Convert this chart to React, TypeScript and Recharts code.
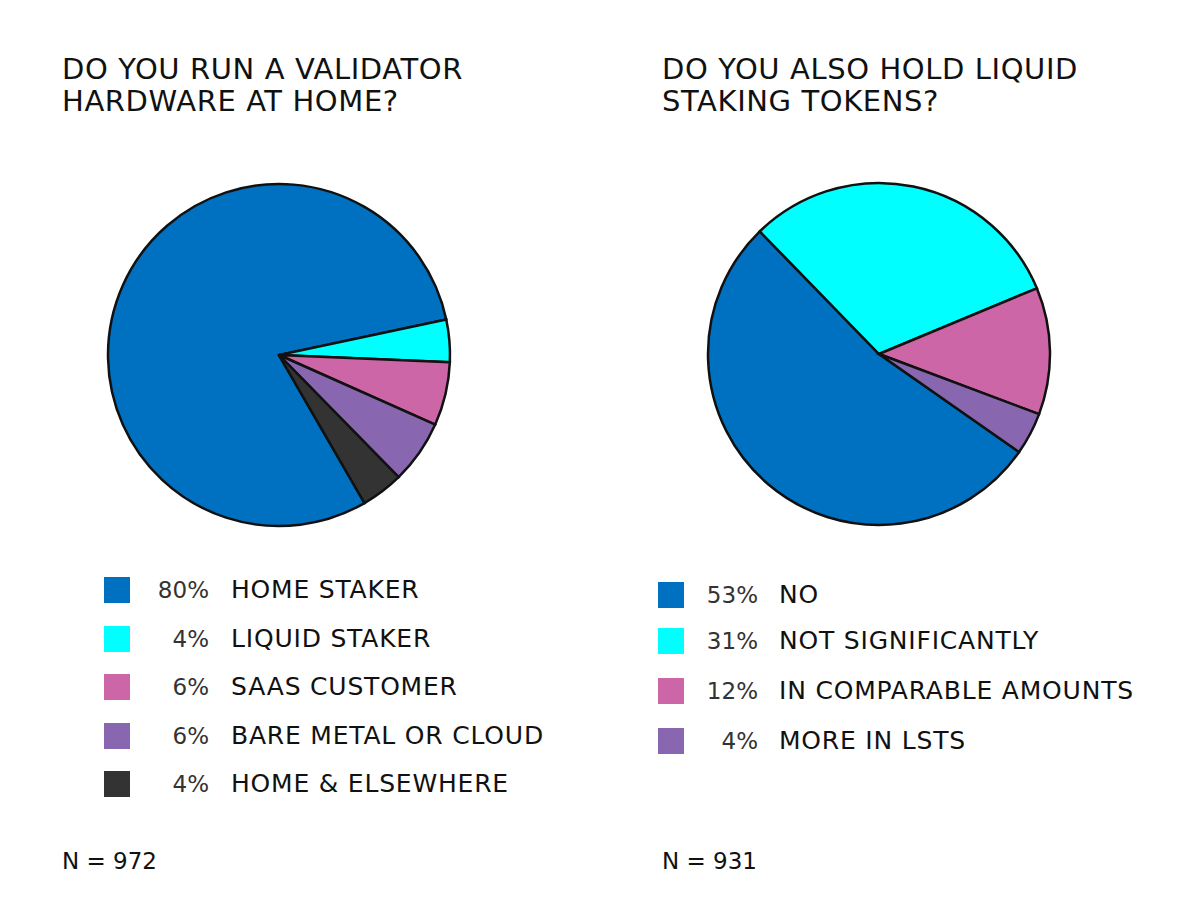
import React from "react";
import { PieChart, Pie, Cell } from "recharts";

const leftTitle = ["DO YOU RUN A VALIDATOR", "HARDWARE AT HOME?"];
const leftLabels = ["HOME STAKER", "LIQUID STAKER", "SAAS CUSTOMER", "BARE METAL OR CLOUD", "HOME & ELSEWHERE"];
const leftValues = [80, 4, 6, 6, 4];
const leftColors = ["#0070c0", "#00ffff", "#cc66a6", "#8866b0", "#333333"];
const leftN = "N = 972";

const rightTitle = ["DO YOU ALSO HOLD LIQUID", "STAKING TOKENS?"];
const rightLabels = ["NO", "NOT SIGNIFICANTLY", "IN COMPARABLE AMOUNTS", "MORE IN LSTS"];
const rightValues = [53, 31, 12, 4];
const rightColors = ["#0070c0", "#00ffff", "#cc66a6", "#8866b0"];
const rightN = "N = 931";

const FONT = "'DejaVu Sans', sans-serif";

const leftData = leftLabels.map((name, i) => ({ name, value: leftValues[i] }));
const rightData = rightLabels.map((name, i) => ({ name, value: rightValues[i] }));

function Title({ lines, x }: { lines: string[]; x: number }) {
  return (
    <div style={{ position: "absolute", left: x, top: 53, fontFamily: FONT, fontSize: 29, lineHeight: "32px", color: "#111", letterSpacing: 0.6 }}>
      {lines.map((l) => (
        <div key={l}>{l}</div>
      ))}
    </div>
  );
}

function Legend({ labels, values, colors, x, y, gaps, pctRight, labelX }: any) {
  let top = y;
  return (
    <div>
      {labels.map((l: string, i: number) => {
        const t = top;
        top += gaps[i] ?? 48.5;
        return (
          <div key={l}>
            <div style={{ position: "absolute", left: x, top: t - 13, width: 26, height: 26, background: colors[i] }} />
            <div style={{ position: "absolute", left: pctRight - 80, width: 80, top: t - 16, textAlign: "right", fontFamily: FONT, fontSize: 23, lineHeight: "32px", color: "#333" }}>
              {values[i]}%
            </div>
            <div style={{ position: "absolute", left: labelX, top: t - 16, fontFamily: FONT, fontSize: 25, lineHeight: "32px", color: "#111", whiteSpace: "nowrap", letterSpacing: 0.8 }}>
              {l}
            </div>
          </div>
        );
      })}
    </div>
  );
}

export default function App() {
  return (
    <div style={{ position: "absolute", left: 0, top: 0, width: 1200, height: 897, background: "#fff", overflow: "hidden" }}>
      <PieChart width={1200} height={897} margin={{ top: 0, right: 0, bottom: 0, left: 0 }} style={{ position: "absolute", left: 0, top: 0 }}>
        <Pie
          data={leftData}
          dataKey="value"
          cx={279}
          cy={355}
          outerRadius={171}
          startAngle={300}
          endAngle={-60}
          stroke="#111"
          strokeWidth={2.5}
          isAnimationActive={false}
        >
          {leftData.map((d, i) => (
            <Cell key={d.name} fill={leftColors[i]} />
          ))}
        </Pie>
        <Pie
          data={rightData}
          dataKey="value"
          cx={879}
          cy={354}
          outerRadius={171}
          startAngle={325}
          endAngle={-35}
          stroke="#111"
          strokeWidth={2.5}
          isAnimationActive={false}
        >
          {rightData.map((d, i) => (
            <Cell key={d.name} fill={rightColors[i]} />
          ))}
        </Pie>
      </PieChart>
      <Title lines={leftTitle} x={62} />
      <Title lines={rightTitle} x={662} />
      <Legend labels={leftLabels} values={leftValues} colors={leftColors} x={104} y={590} gaps={[48.5, 48.5, 48.5, 48.5]} pctRight={209} labelX={231} />
      <Legend labels={rightLabels} values={rightValues} colors={rightColors} x={658} y={595} gaps={[46, 50, 50]} pctRight={758} labelX={779} />
      <div style={{ position: "absolute", left: 62, top: 848, fontFamily: FONT, fontSize: 23, color: "#111" }}>{leftN}</div>
      <div style={{ position: "absolute", left: 662, top: 848, fontFamily: FONT, fontSize: 23, color: "#111" }}>{rightN}</div>
    </div>
  );
}
